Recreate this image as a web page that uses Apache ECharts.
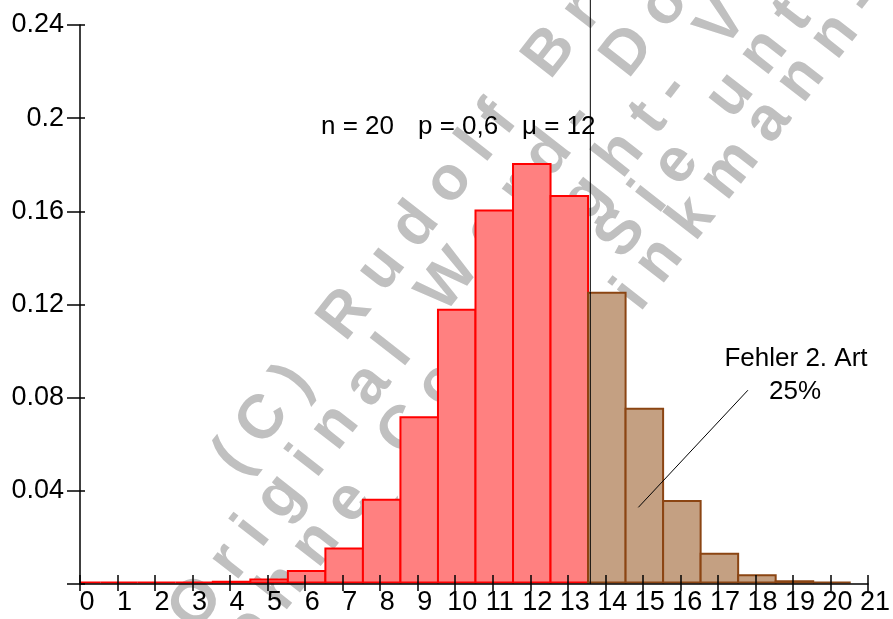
<!DOCTYPE html>
<html>
<head>
<meta charset="utf-8">
<script src="https://cdn.jsdelivr.net/npm/echarts@6/dist/echarts.min.js"></script>
<style>
  html, body { margin: 0; padding: 0; background: #fff; }
  #chart { width: 893px; height: 619px; }
</style>
</head>
<body>
<div id="chart"></div>
<script>
// Binomialverteilung n = 20, p = 0,6 (Werte aus dem Bild gelesen)
const ks = [0, 1, 2, 3, 4, 5, 6, 7, 8, 9, 10, 11, 12, 13, 14, 15, 16, 17, 18, 19, 20]
const probs = [0.0000, 0.0000, 0.0000, 0.0000, 0.0003, 0.0013, 0.0049, 0.0146, 0.0355, 0.0710,
               0.1171, 0.1597, 0.1797, 0.1659, 0.1244, 0.0746, 0.0350, 0.0123, 0.0031, 0.0005, 0.0000]
const yTicks = [0, 0.04, 0.08, 0.12, 0.16, 0.2, 0.24]
const errFrom = 14        // ab hier: Fehler 2. Art
const cutX = 13.6         // senkrechte Linie
const pointer = [[17.8, 0.0832], [14.88, 0.0329]]   // Hinweislinie

const FONT = '"Liberation Sans", Arial, sans-serif'

// Wasserzeichen (grau, schräg): n = Abstand quer zur Zeile, at/t = Zeichen und seine Lage entlang der Zeile
const WM_SIZE = 62
const WM_GAP = 17
const WM_ANGLE = 52 * Math.PI / 180
const wmLines = [
    { text: '(C) Rudolf Brinkmann', n: 466, at: 4, t: -35 },
    { text: 'Original Word- Dokumente', n: 527, at: 9, t: 55 },
    { text: 'ohne Copyright- Vermerk', n: 584, at: 5, t: -90 },
    { text: 'können Sie unter', n: 634, at: 7, t: 198 },
    { text: 'www.brinkmann-du.de', n: 680, at: 6, t: 156 }
]

function watermark() {
    const ctx = document.createElement('canvas').getContext('2d')
    ctx.font = 'bold ' + WM_SIZE + 'px "Liberation Sans"'
    const s = Math.sin(WM_ANGLE), c = Math.cos(WM_ANGLE)
    const els = []
    wmLines.forEach(line => {
        const chars = Array.from(line.text)
        const widths = chars.map(ch => ctx.measureText(ch).width)
        // Mitte jedes Zeichens relativ zum Zeilenanfang
        let acc = 0
        const mids = widths.map(w => { const m = acc + w / 2; acc += w + WM_GAP; return m })
        const shift = line.t - mids[line.at]
        chars.forEach((ch, i) => {
            if (ch === ' ') return
            const m = mids[i] + shift
            els.push({
                type: 'text', silent: true, z: 1,
                x: line.n * s + m * c,
                y: line.n * c - m * s,
                rotation: WM_ANGLE,
                style: {
                    text: ch, fill: '#c0c0c0',
                    fontSize: WM_SIZE, fontWeight: 'bold', fontFamily: 'Liberation Sans',
                    align: 'center', verticalAlign: 'middle'
                }
            })
        })
    })
    return els
}

function label(text, x, y, align) {
    return {
        type: 'text', silent: true, z: 10, x: x, y: y,
        style: {
            text: text, fill: '#000', fontSize: 26, fontFamily: 'Liberation Sans',
            align: align, verticalAlign: 'middle'
        }
    }
}

let myChart = echarts.init(document.getElementById('chart'))

const axisCommon = { type: 'value', min: 0, max: 21, interval: 1, splitLine: { show: false }, z: 5 }
const yCommon = { type: 'value', min: 0, max: 0.24, interval: 0.04, splitLine: { show: false }, z: 5 }

let option = {
    animation: false,
    backgroundColor: '#fff',
    grid: { left: 80, right: 20, top: 25, bottom: 35 },
    xAxis: [
        Object.assign({}, axisCommon, {
            position: 'bottom',
            axisLine: { lineStyle: { color: '#000', width: 1.5 } },
            axisTick: { length: 7, lineStyle: { color: '#000', width: 1.5 } },
            axisLabel: { color: '#000', fontSize: 27, fontFamily: FONT, margin: 5, padding: [0, 0, 0, 14] }
        }),
        Object.assign({}, axisCommon, {
            position: 'bottom',
            axisLine: { show: false },
            axisTick: { inside: true, length: 9, lineStyle: { color: '#000', width: 1.5 } },
            axisLabel: { show: false }
        })
    ],
    yAxis: [
        Object.assign({}, yCommon, {
            position: 'left',
            axisLine: { lineStyle: { color: '#000', width: 1.5 } },
            axisTick: { length: 13, lineStyle: { color: '#000', width: 1.5 } },
            axisLabel: {
                color: '#000', fontSize: 27, fontFamily: FONT, margin: 16,
                formatter: function (v) {
                    const hit = yTicks.find(t => Math.abs(t - v) < 1e-9)
                    return hit ? String(hit) : ''
                }
            }
        }),
        Object.assign({}, yCommon, {
            position: 'left',
            axisLine: { show: false },
            axisTick: { inside: true, length: 5, lineStyle: { color: '#000', width: 1.5 } },
            axisLabel: { show: false }
        })
    ],
    graphic: {
        elements: watermark().concat([
            label('n = 20', 321, 127, 'left'),
            label('p = 0,6', 418, 127, 'left'),
            label('\u03bc = 12', 522, 127, 'left'),
            label('Fehler 2. Art', 796, 359, 'center'),
            label('25%', 795, 392, 'center')
        ])
    },
    series: [{
        type: 'custom',
        z: 3,
        data: ks.map((k, i) => [k, probs[i]]),
        renderItem: function (params, api) {
            const k = api.value(0)
            const p = api.value(1)
            const tl = api.coord([Math.max(k - 0.5, 0), p])
            const br = api.coord([k + 0.5, 0])
            const err = k >= errFrom
            const dx = k > 0 ? 1.5 : 0
            return {
                type: 'rect',
                shape: { x: tl[0] + dx, y: tl[1] - 1.5, width: br[0] - tl[0] + 1.5 - dx, height: br[1] - tl[1] },
                style: {
                    fill: err ? '#c4a082' : '#ff8080',
                    stroke: err ? '#8b4513' : '#ff0000',
                    lineWidth: 2
                }
            }
        }
    }, {
        type: 'line',
        z: 6,
        clip: false,
        symbol: 'none',
        silent: true,
        data: [[cutX, 0], [cutX, 0.27]],
        lineStyle: { color: '#000', width: 1 }
    }, {
        type: 'line',
        z: 6,
        symbol: 'none',
        silent: true,
        data: pointer,
        lineStyle: { color: '#000', width: 1 }
    }]
}

myChart.setOption(option)
</script>
</body>
</html>
